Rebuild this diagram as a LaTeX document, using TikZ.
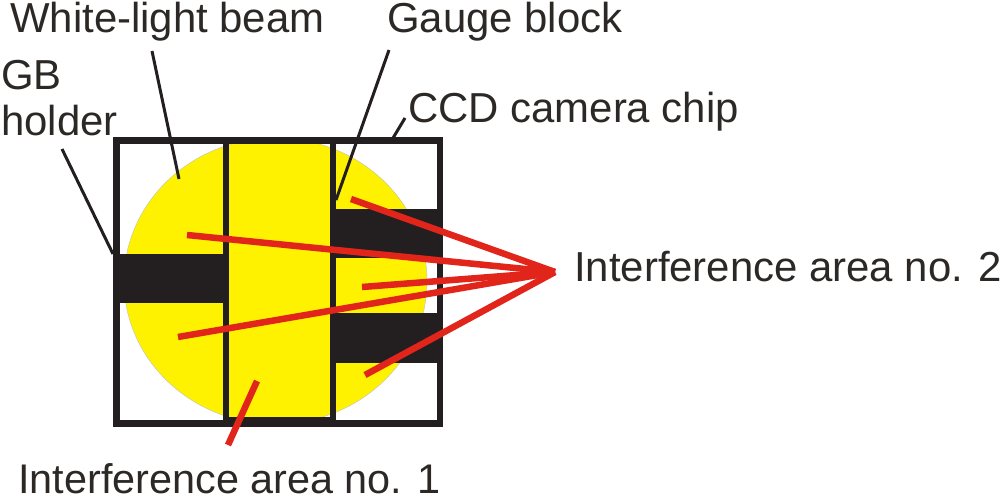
\documentclass[tikz,border=0pt]{standalone}
\usepackage{fontspec}
\setmainfont{Liberation Sans}
\definecolor{beamyellow}{HTML}{FFF200}
\definecolor{blockblack}{HTML}{231F20}
\definecolor{arearead}{HTML}{E1251B}
\definecolor{labelgray}{HTML}{2B2826}
\tikzset{
label/.style={
  anchor=base west,
  inner sep=0pt,
  text=labelgray,
  font=\fontsize{41.9}{41.9}\selectfont
  }
}
\tikzset{
block/.style={
  fill=blockblack
  }
}
\tikzstyle{leader} = [draw=blockblack,line width=3pt]
\tikzstyle{arealine} = [draw=arearead,line width=6.5pt]
\begin{document}
\begin{tikzpicture}[x=1pt, y=-1pt]
	\path[use as bounding box] (0,0) rectangle (1000,498);
	\pgfdeclarelayer{background}
	\pgfsetlayers{background,main}

	\begin{pgfonlayer}{background}
		\begin{scope}
			\clip (116,144) rectangle (440,420);
			\fill[beamyellow, draw=black!25, line width=0.4pt] (275.5,281) ellipse (151.5 and 143);
		\end{scope}
	\end{pgfonlayer}

	\begin{pgfonlayer}{main}
		%blocks
		\node (holder) [block, inner sep=0pt, minimum width=116pt, minimum height=49pt] at (171,278.5) {};
		\node (gaugetop) [block, inner sep=0pt, minimum width=113pt, minimum height=49pt] at (386.5,233.5) {};
		\node (gaugebottom) [block, inner sep=0pt, minimum width=113pt, minimum height=50pt] at (386.5,338) {};

		%frame
		\node (chip) [draw=blockblack, line width=6.5pt, inner sep=0pt, minimum width=323.5pt, minimum height=283pt] at (278.25,282) {};
		\draw[draw=blockblack, line width=6.5pt] (226,140) -- (226,424);
		\draw[draw=blockblack, line width=6.5pt] (333,140) -- (333,424);
		\fill[blockblack] (229,417) rectangle (330,421);

		%labels
		\node (beamtext) [label] at (10,32) {White-light beam};
		\node (gaugetext) [label] at (387,32) {Gauge block};
		\node (gbtext) [label] at (1,89) {GB};
		\node (holdertext) [label] at (1,135) {holder};
		\node (ccdtext) [label] at (408,122) {CCD camera chip};
		\node (areatwotext) [label] at (574,281) {Interference area no. 2};
		\node (areaonetext) [label, font=\fontsize{41.4}{41.4}\selectfont] at (18,493) {Interference area no. 1};

		%ends
		\coordinate (apex) at (555,272);
		\coordinate (a) at (351,199);
		\coordinate (b) at (187,235);
		\coordinate (c) at (362,287);
		\coordinate (d) at (178,337);
		\coordinate (e) at (365,375);
		\coordinate (f) at (257,381);
		\coordinate (g) at (228,445);
		\coordinate (beamtop) at (152,51);
		\coordinate (beamend) at (179,179);
		\coordinate (gaugetop1) at (389,50);
		\coordinate (gaugeend) at (336,200);
		\coordinate (ccdtop) at (405,118);
		\coordinate (ccdend) at (393,138);
		\coordinate (holdertop) at (62,149);
		\coordinate (holderend) at (113,254);

		%edges
		\draw[leader] (beamtop) -- (beamend);
		\draw[leader] (gaugetop1) -- (gaugeend);
		\draw[leader] (ccdtop) -- (ccdend);
		\draw[leader] (holdertop) -- (holderend);

		\draw[arealine] (apex) -- (a);
		\draw[arealine] (apex) -- (b);
		\draw[arealine] (apex) -- (c);
		\draw[arealine] (apex) -- (d);
		\draw[arealine] (apex) -- (e);
		\draw[arealine] (f) -- (g);
	\end{pgfonlayer}
\end{tikzpicture}
\end{document}
